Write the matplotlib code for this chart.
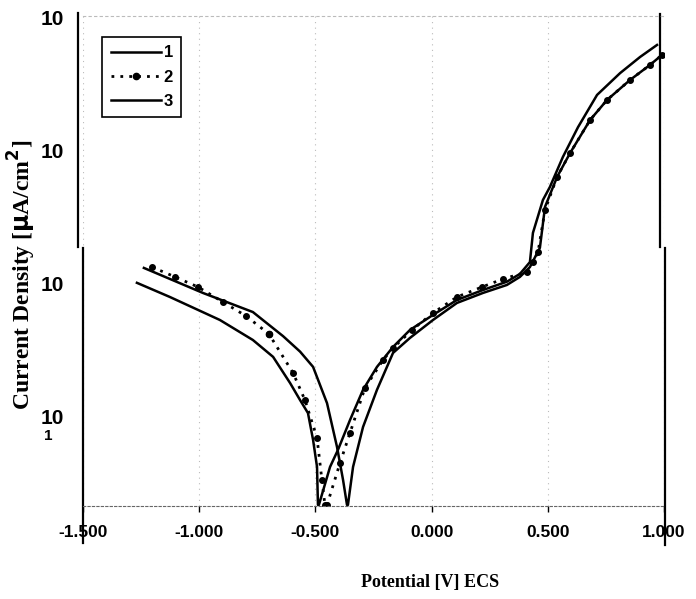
import matplotlib.pyplot as plt

# Courbes de polarisation (E en V/ECS, i en uA/cm2)
e1 = [-1.268, -1.126, -0.911, -0.769, -0.682, -0.609, -0.566, -0.532, -0.510, -0.493, -0.489,
      -0.485, -0.437, -0.403, -0.351, -0.295, -0.235, -0.166, -0.093, 0.006, 0.109, 0.221,
      0.324, 0.380, 0.423, 0.436, 0.479, 0.509, 0.565, 0.630, 0.712, 0.811, 0.897, 0.970]
i1 = [102, 79.8, 53.6, 37.9, 28.3, 18.0, 13.4, 10.7, 6.72, 4.21, 2.18,
      2.18, 4.21, 5.65, 9.49, 16.0, 23.8, 33.6, 45.1, 58.5, 75.8, 90.1,
      104, 119, 146, 242, 428, 536, 902, 1510, 2640, 3850, 5090, 6270]

e2 = [-1.203, -1.104, -1.005, -0.898, -0.799, -0.700, -0.596, -0.545, -0.493, -0.472, -0.459,
      -0.450, -0.394, -0.351, -0.287, -0.209, -0.166, -0.084, 0.006, 0.109, 0.217, 0.307,
      0.410, 0.436, 0.458, 0.488, 0.540, 0.596, 0.682, 0.755, 0.854, 0.940, 0.991]
i2 = [134, 113, 94.9, 73.2, 57.5, 42.1, 21.4, 13.4, 6.95, 3.36, 2.18,
      2.18, 4.51, 7.59, 16.5, 26.8, 33.0, 45.1, 60.5, 79.8, 94.9, 109,
      123, 146, 174, 360, 638, 966, 1710, 2420, 3420, 4440, 5270]

e3 = [-1.238, -0.984, -0.769, -0.639, -0.566, -0.510, -0.450, -0.407, -0.381, -0.364,
      -0.360, -0.338, -0.295, -0.235, -0.166, -0.093, 0.006, 0.109, 0.221, 0.324, 0.380,
      0.423, 0.466, 0.488, 0.540, 0.596, 0.682, 0.755, 0.854, 0.940, 0.991]
i3 = [132, 85.6, 61.5, 40.5, 31.0, 23.8, 12.7, 5.95, 3.36, 2.18,
      2.18, 4.21, 8.41, 16.0, 30.3, 39.3, 53.6, 72.0, 85.6, 98.3, 113,
      134, 187, 380, 638, 966, 1710, 2420, 3420, 4440, 5270]

xticks = [-1.5, -1.0, -0.5, 0.0, 0.5, 1.0]
xlabels = ['-1.500', '-1.000', '-0.500', '0.000', '0.500', '1.000']
yticks = [10, 100, 1000, 10000]
ylabels = ['10', '10', '10', '10']

fig = plt.figure(figsize=(6.96, 5.99), dpi=100)
ax = fig.add_axes([83/696, 1-506/599, 581/696, 490/599])

ax.plot(e1, i1, color='black', lw=1.8, label='1')
ax.plot(e2, i2, color='black', lw=2.0, ls=(0, (1, 2.2)), marker='o', ms=4.5,
        label='2', markevery=[5])
ax.plot(e2, i2, ls='none', marker='o', ms=4, color='black')
ax.plot(e3, i3, color='black', lw=1.8, label='3')

ax.set_yscale('log')
ax.set_xlim(-1.5, 1.0)
ax.set_ylim(2.14, 10350)

ax.set_xticks(xticks)
ax.set_xticklabels(xlabels, fontsize=12.5, family='Liberation Sans', weight='bold')
ax.set_yticks(yticks)
ax.set_yticklabels(ylabels, fontsize=15, family='Liberation Sans', weight='bold')
ax.yaxis.set_minor_locator(plt.NullLocator())
ax.tick_params(axis='y', length=0, pad=14)
ax.tick_params(axis='x', direction='out', length=4, width=1, pad=10)
ax.grid(axis='x', ls=(0, (1, 4)), color='#bbbbbb', lw=0.8)

# axes cassés (image recollée)
for s in ['left', 'right']:
    ax.spines[s].set_visible(False)
ax.spines['top'].set_linestyle((0, (2, 3)))
ax.spines['top'].set_color('#bbbbbb')
ax.spines['bottom'].set_linestyle((0, (2, 2)))
ax.spines['bottom'].set_color('#666666')
kw = dict(transform=ax.transAxes, color='black', lw=1.6, clip_on=False)
ax.plot([-0.009, -0.009], [0.529, 1.006], **kw)
ax.plot([0.0, 0.0], [-0.075, 0.527], **kw)
ax.plot([0.993, 0.993], [0.529, 1.004], **kw)
ax.plot([1.002, 1.002], [-0.08, 0.527], **kw)

fig.text(48/696, 1-436/599, '1', fontsize=11, family='Liberation Sans',
         weight='bold', ha='center', va='center')

leg = ax.legend(loc='upper left', bbox_to_anchor=(0.033, 0.957), borderaxespad=0,
                prop={'family': 'Liberation Sans', 'weight': 'bold', 'size': 12},
                handlelength=3.0, handletextpad=0.2, labelspacing=0.55,
                fancybox=False, edgecolor='black', framealpha=1, borderpad=0.5)
leg.get_frame().set_linewidth(1.2)

fig.text(22/696, 1-275/599, r'Current Density [$\mathbf{\mu}$A/cm$^\mathbf{2}$]',
         rotation=90, fontsize=17, family='Liberation Serif', weight='bold',
         ha='center', va='center')
fig.text(430/696, 1-582/599, 'Potential [V] ECS', fontsize=13,
         family='Liberation Serif', weight='bold', ha='center', va='center')

plt.savefig('out.png', dpi=100)
